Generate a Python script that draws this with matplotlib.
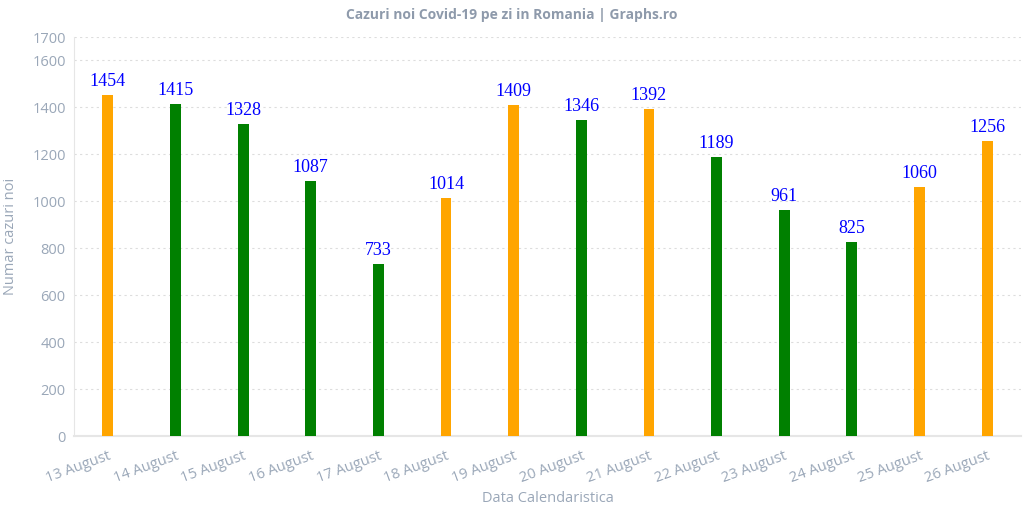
import numpy as np
import matplotlib.pyplot as plt

zile = ['13 August', '14 August', '15 August', '16 August', '17 August',
        '18 August', '19 August', '20 August', '21 August', '22 August',
        '23 August', '24 August', '25 August', '26 August']
cazuri = [1454, 1415, 1328, 1087, 733, 1014, 1409, 1346, 1392, 1189,
          961, 825, 1060, 1256]
culori = ['orange', 'green', 'green', 'green', 'green', 'orange', 'orange',
          'green', 'orange', 'green', 'green', 'green', 'orange', 'orange']
yticks = [0, 200, 400, 600, 800, 1000, 1200, 1400, 1600, 1700]

grey = '#9aa7b8'

fig = plt.figure(figsize=(10.24, 5.12), dpi=100)
ax = fig.add_axes([0.0723, 0.1484, 0.9247, 0.7793])

x = np.arange(len(zile))
bars = ax.bar(x, cazuri, width=0.16, color=culori, zorder=3)
for xi, v in zip(x, cazuri):
    ax.text(xi, v + 22, str(v), ha='center', va='bottom', color='#0000ff',
            fontsize=13, family='Liberation Serif', zorder=4)

ax.set_xlim(-0.5, len(zile) - 0.5)
ax.set_ylim(0, 1700)
ax.set_yticks(yticks)
ax.set_yticklabels([str(t) for t in yticks], fontsize=10.5, color=grey,
                   family='Open Sans')
ax.set_xticks(x)
ax.set_xticklabels(zile, rotation=20, ha='right', rotation_mode='anchor',
                   fontsize=10.5, color=grey, family='Open Sans')
ax.tick_params(axis='y', length=0, pad=6)
ax.tick_params(axis='x', length=0, pad=9)
ax.yaxis.grid(True, linestyle=(0, (2, 3)), color='#dddddd', linewidth=0.8, zorder=0)

for s in ['top', 'right']:
    ax.spines[s].set_visible(False)
ax.spines['left'].set_color('#e6e6e6')
ax.spines['bottom'].set_color('#e6e6e6')
ax.spines['bottom'].set_linewidth(1.5)

ax.set_xlabel('Data Calendaristica', fontsize=10.5, color=grey, family='Open Sans',
              labelpad=4)
ax.set_ylabel('Numar cazuri noi', fontsize=10.5, color=grey, family='Open Sans',
              labelpad=10)
fig.suptitle('Cazuri noi Covid-19 pe zi in Romania | Graphs.ro', fontsize=10,
             weight='bold', color='#8e9aab', family='Open Sans', y=0.985)

fig.savefig('out.png', dpi=100)
